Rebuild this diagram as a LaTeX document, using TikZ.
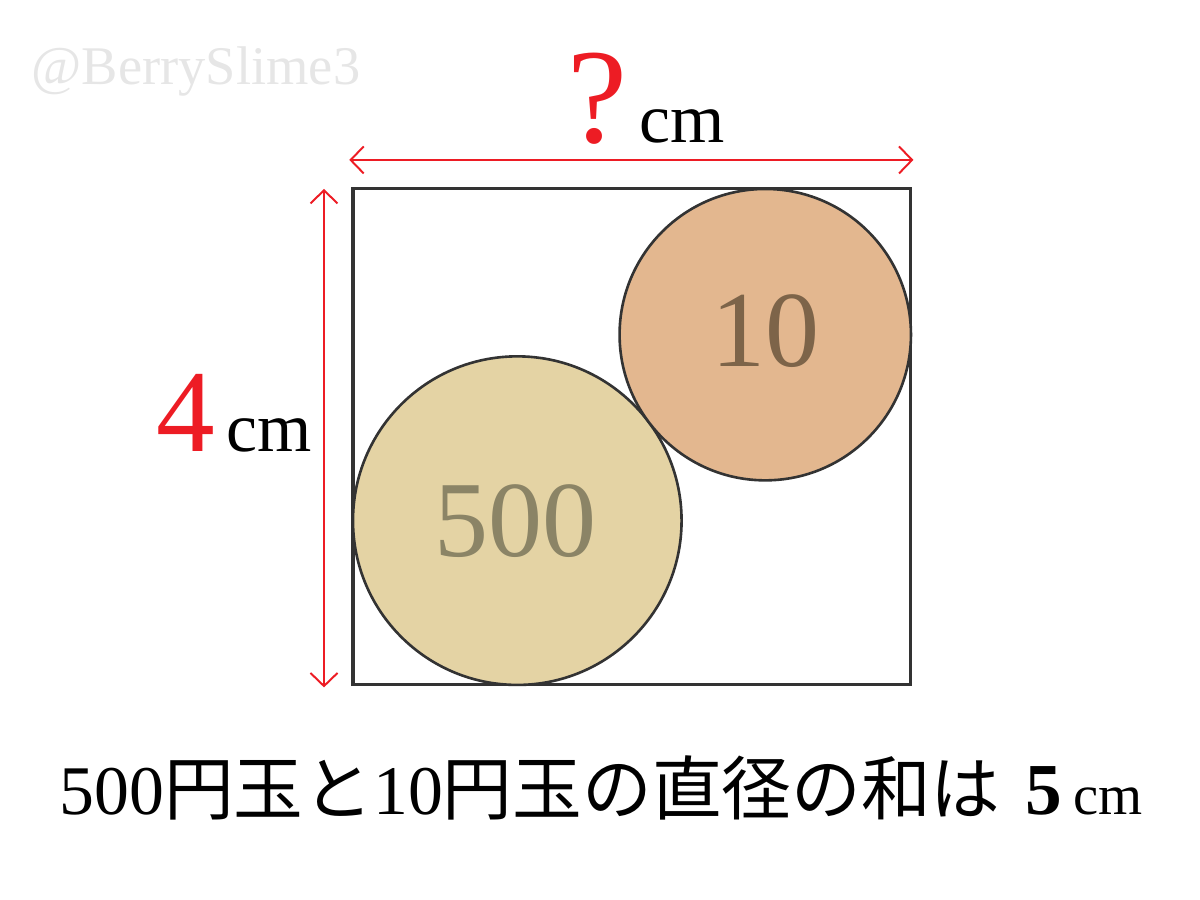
\documentclass[tikz,border=0pt]{standalone}
\usepackage{fontspec}
\setmainfont{Liberation Serif}
\newfontfamily\jp{Noto Sans CJK JP}
\usetikzlibrary{arrows.meta}
\definecolor{qred}{HTML}{ED1C24}
\definecolor{edgegray}{HTML}{333333}
\definecolor{coinfive}{HTML}{E4D3A4}
\definecolor{coinfivetext}{HTML}{8B8466}
\definecolor{cointen}{HTML}{E3B78F}
\definecolor{cointentext}{HTML}{7D6449}
\definecolor{markgray}{HTML}{E6E6E6}
\tikzset{
  dimline/.style={qred,line width=0.45pt,{Straight Barb[length=3pt,width=6.2pt]}-{Straight Barb[length=3pt,width=6.2pt]}},
  coin/.style={draw=edgegray,line width=0.6pt},
}
\begin{document}
\begin{tikzpicture}[scale=1.0]
	\useasboundingbox (-2.847,-1.734) rectangle (6.831,5.524);
	% Watermark
	\node[anchor=base,text=markgray,font=\fontsize{12.5}{15}\selectfont] (mark) at (-1.266,4.839) {@BerrySlime3};
	% Box
	\draw[edgegray,line width=0.7pt] (0,0) rectangle (4.5,4);
	% Coins
	\filldraw[coin,fill=coinfive] (1.325,1.325) circle[radius=1.325];
	\filldraw[coin,fill=cointen] (3.325,2.825) circle[radius=1.175];
	\node[text=coinfivetext,font=\fontsize{24.8}{28}\selectfont] (five) at (1.31,1.325) {500};
	\node[text=cointentext,font=\fontsize{24.8}{28}\selectfont] (ten) at (3.325,2.855) {10};
	% Dimensions
	\coordinate (wl) at (-0.03,4.234);
	\coordinate (wr) at (4.52,4.234);
	\coordinate (ht) at (-0.234,4.0);
	\coordinate (hb) at (-0.234,-0.02);
	\draw[dimline] (wl) -- (wr);
	\draw[dimline] (ht) -- (hb);
	\node[anchor=base,text=qred,font=\fontsize{31}{33}\selectfont,inner sep=0pt] (qmark) at (1.968,4.371) {?};
	\node[anchor=base west,font=\fontsize{16}{18}\selectfont,inner sep=0pt] (wcm) at (2.30,4.371) {cm};
	\node[anchor=base,text=qred,font=\fontsize{26.9}{30}\selectfont,inner sep=0pt] (four) at (-1.351,1.879) {4};
	\node[anchor=base west,font=\fontsize{16}{18}\selectfont,inner sep=0pt] (hcm) at (-1.024,1.879) {cm};
	% Note
	\node[anchor=base,font=\fontsize{16}{20}\selectfont,inner sep=0pt] (note) at (2.0,-1.048)
		{500{\jp 円玉と}10{\jp 円玉の直径の和は}\hspace{0.35em}{\fontsize{16.8}{20}\selectfont\bfseries 5}\,{\fontsize{13}{15}\selectfont cm}};
\end{tikzpicture}
\end{document}
